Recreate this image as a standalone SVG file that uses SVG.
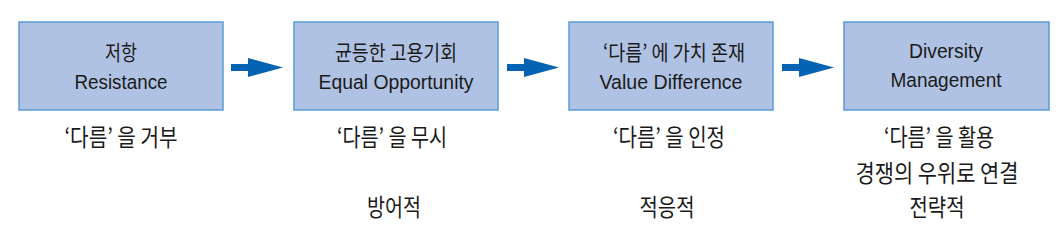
<svg xmlns="http://www.w3.org/2000/svg" width="1062" height="231" viewBox="0 0 1062 231">
<style>
.box{fill:#b0c2e3;stroke:#5b9bd5;stroke-width:1.5}
.ko{font-family:"Noto Sans CJK KR","Noto Sans",sans-serif;fill:#1a1a1a;text-anchor:middle}
.en{font-family:"Liberation Sans",Arial,sans-serif;fill:#1a1a1a;text-anchor:middle;font-size:20.5px}
.bk{font-size:21px}
.lo{font-size:24px}
.arr{fill:#0563b4}
</style>
<rect width="1062" height="231" fill="#ffffff"/>
<g id="node1">
<rect class="box" x="19" y="22" width="204" height="88"/>
<text class="ko bk" x="121" y="59.5" textLength="32" lengthAdjust="spacingAndGlyphs">저항</text>
<text class="en" x="121" y="89" textLength="93" lengthAdjust="spacingAndGlyphs">Resistance</text>
</g>
<g id="node2">
<rect class="box" x="294" y="22" width="204" height="88"/>
<text class="ko bk" x="396" y="59.5" textLength="122" lengthAdjust="spacingAndGlyphs">균등한 고용기회</text>
<text class="en" x="396" y="89" textLength="155" lengthAdjust="spacingAndGlyphs">Equal Opportunity</text>
</g>
<g id="node3">
<rect class="box" x="569" y="22" width="204" height="88"/>
<text class="ko bk" x="674" y="59.5" textLength="142" lengthAdjust="spacingAndGlyphs">‘다름’ 에 가치 존재</text>
<text class="en" x="671" y="89" textLength="143" lengthAdjust="spacingAndGlyphs">Value Difference</text>
</g>
<g id="node4">
<rect class="box" x="844" y="22" width="205" height="88"/>
<text class="en" x="946" y="58" textLength="74" lengthAdjust="spacingAndGlyphs">Diversity</text>
<text class="en" x="946" y="87" textLength="111" lengthAdjust="spacingAndGlyphs">Management</text>
</g>
<g id="connectors">
<path class="arr" d="M231,64 H248 V58 L283,67.5 L248,77 V71 H231 Z"/>
<path class="arr" d="M507,64 H524 V58 L559,67.5 L524,77 V71 H507 Z"/>
<path class="arr" d="M782,64 H799 V58 L834,67.5 L799,77 V71 H782 Z"/>
</g>
<g id="labels">
<text class="ko lo" x="121" y="145.5" textLength="113" lengthAdjust="spacingAndGlyphs">‘다름’ 을 거부</text>
<text class="ko lo" x="392" y="145.5" textLength="110" lengthAdjust="spacingAndGlyphs">‘다름’ 을 무시</text>
<text class="ko lo" x="394" y="215.5" textLength="54" lengthAdjust="spacingAndGlyphs">방어적</text>
<text class="ko lo" x="669" y="145.5" textLength="112" lengthAdjust="spacingAndGlyphs">‘다름’ 을 인정</text>
<text class="ko lo" x="667" y="215.5" textLength="55" lengthAdjust="spacingAndGlyphs">적응적</text>
<text class="ko lo" x="939" y="145.5" textLength="110" lengthAdjust="spacingAndGlyphs">‘다름’ 을 활용</text>
<text class="ko lo" x="937" y="181.5" textLength="163" lengthAdjust="spacingAndGlyphs">경쟁의 우위로 연결</text>
<text class="ko lo" x="937" y="215.5" textLength="55" lengthAdjust="spacingAndGlyphs">전략적</text>
</g>
</svg>
